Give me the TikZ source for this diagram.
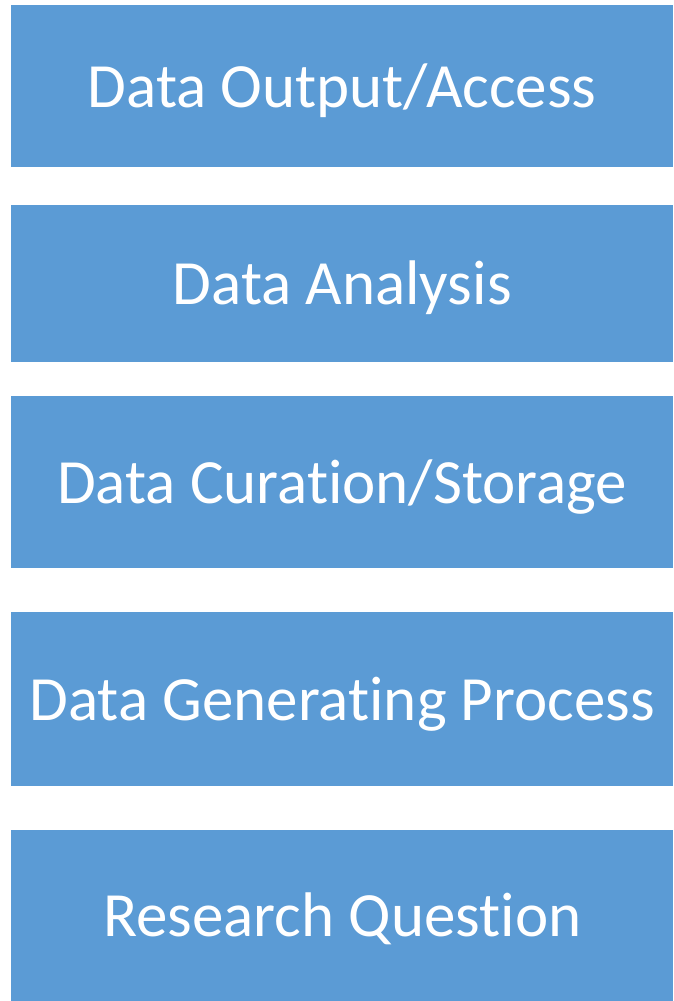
\documentclass[tikz,border=0pt]{standalone}
\usepackage{fontspec}
\setmainfont[Ligatures=NoCommon]{Carlito}
\definecolor{boxblue}{HTML}{5B9BD5}
\begin{document}
\begin{tikzpicture}[x=1pt,y=-1pt,
  layer/.style={fill=boxblue, draw=none, text=white, inner sep=0pt, minimum width=662pt, text height=42pt, text depth=0pt, font=\fontsize{63}{70}\selectfont, anchor=north west}]
\useasboundingbox[fill=white] (0,0) rectangle (673,1001);
\node[layer, minimum height=162pt] (out) at (11,5) {Data Output/Access};
\node[layer, minimum height=157pt] (ana) at (11,205) {Data Analysis};
\node[layer, minimum height=172pt] (cur) at (11,396) {Data Curation/Storage};
\node[layer, minimum height=174pt] (gen) at (11,612) {Data Generating Process};
\node[layer, minimum height=171pt] (rq) at (11,830) {Research Question};
\end{tikzpicture}
\end{document}
